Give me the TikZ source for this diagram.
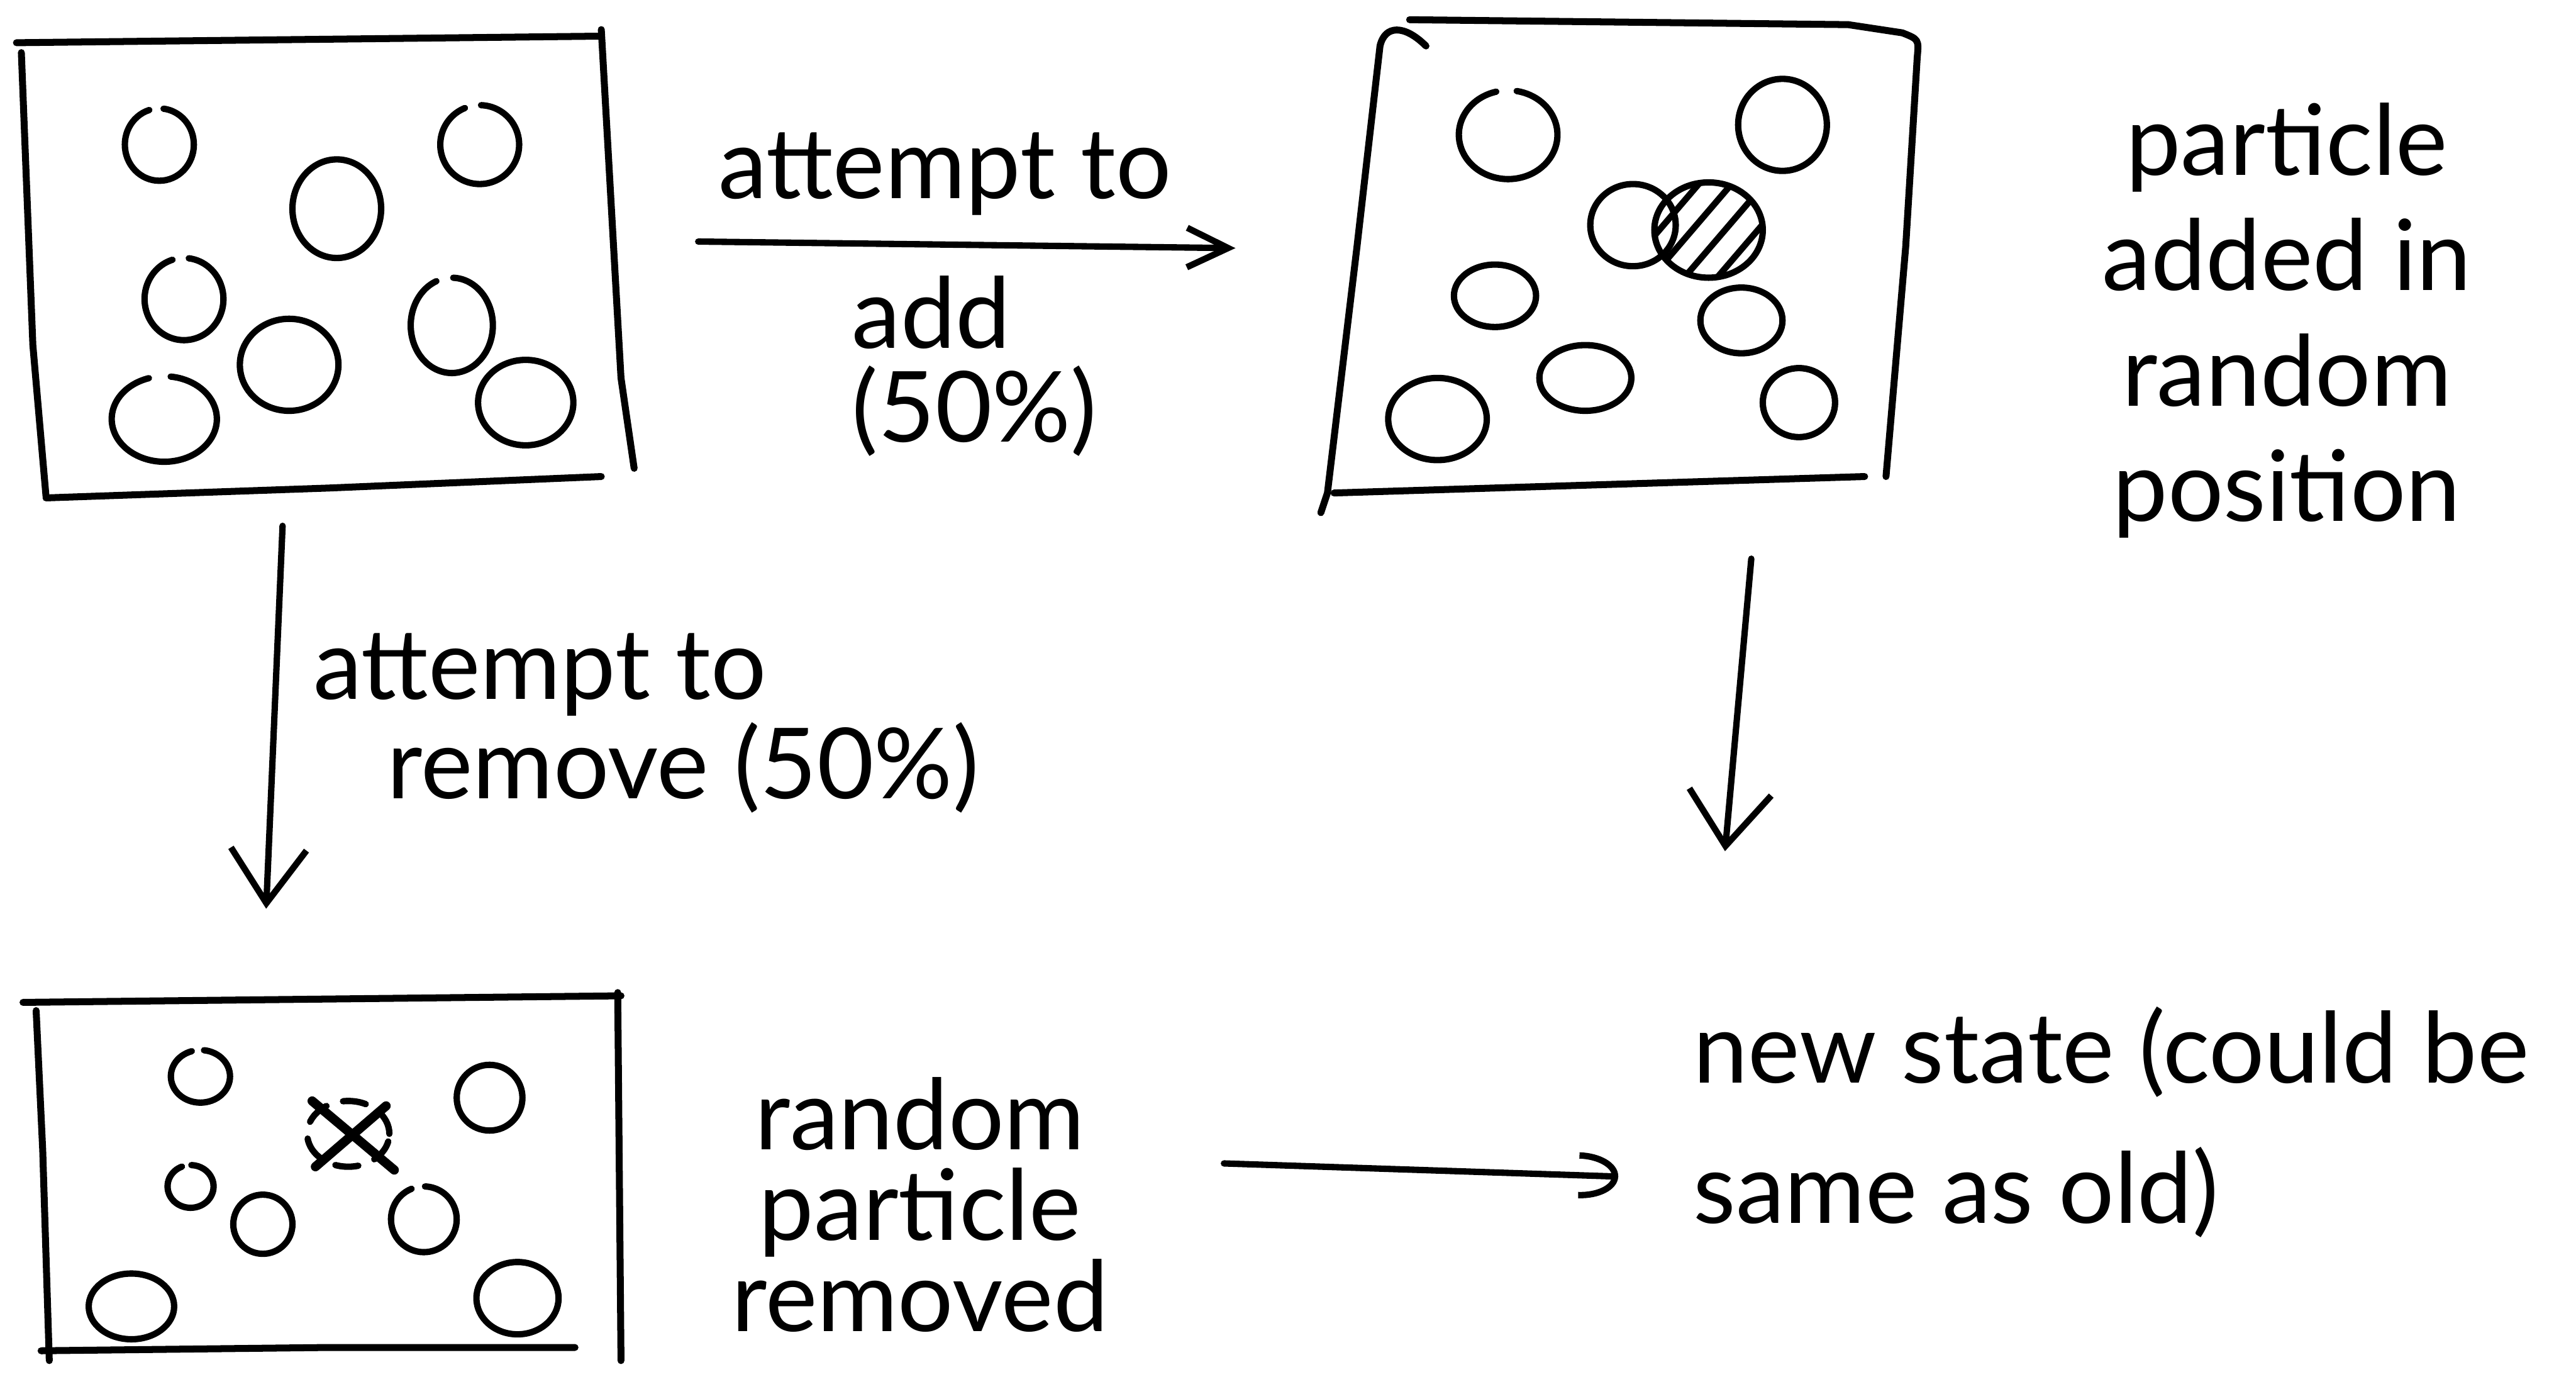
\documentclass[tikz,border=0pt]{standalone}
\usepackage{fontspec}
\setmainfont{Lato}
\usetikzlibrary{arrows.meta}
\tikzset{
  frame/.style={line width=1.2pt, line cap=round, line join=round},
  part/.style={line width=1.1pt, line cap=round},
  conn/.style={line width=1.1pt, line cap=round},
  lbl/.style={font=\fontsize{17}{20}\selectfont, inner sep=0pt},
}
% particle: centre x, centre y, x radius (mm), y radius (mm), gap direction (deg)
\newcommand\pcl[5]{\draw[part] (#1,#2) ++(#5+12:#3mm and #4mm) arc[start angle=#5+12, end angle=#5+348, x radius=#3mm, y radius=#4mm];}
\newcommand\pcf[4]{\draw[part] (#1,#2) ellipse[x radius=#3mm, y radius=#4mm];}
\begin{document}
\begin{tikzpicture}[x=0.1mm, y=-0.1mm]
\useasboundingbox (0,0) rectangle (1568,848);
\fill[white] (0,0) rectangle (1568,848);

% ---------- box 1 (initial state) ----------
\draw[frame] (10,26) -- (366,22);
\draw[frame] (366,18) -- (378,230) -- (386,285);
\draw[frame] (13,32) -- (20,210) -- (28,302);
\draw[frame] (28,303) -- (200,297) -- (366,290);
\pcl{97}{88}{2.1}{2.2}{95}
\pcf{205}{127}{2.7}{3.0}
\pcl{292}{88}{2.4}{2.4}{100}
\pcl{112}{182}{2.4}{2.5}{95}
\pcf{176}{222}{3.0}{2.8}
\pcl{275}{198}{2.5}{2.9}{100}
\pcl{100}{255}{3.2}{2.6}{95}
\pcf{320}{245}{2.9}{2.6}

% ---------- box 2 (particle added) ----------
\draw[frame] (868,28) .. controls (855,15) and (843,15) .. (840,28) -- (826,150) -- (808,300) -- (804,312);
\draw[frame] (858,12) -- (1125,15) -- (1158,20) .. controls (1168,24) .. (1167,35);
\draw[frame] (1167,35) -- (1160,150) -- (1148,290);
\draw[frame] (812,300) -- (1135,290);
\pcl{918}{82}{3.0}{2.7}{92}
\pcf{1085}{76}{2.7}{2.8}
\pcf{994}{137}{2.6}{2.5}
\pcf{1040}{140}{3.3}{2.9}
\begin{scope}
  \clip (1040,140) ellipse[x radius=3.3mm, y radius=2.9mm];
  \foreach \x in {990,1010,...,1090}
    \draw[part] (\x-30,175) -- (\x+30,105);
\end{scope}
\pcf{910}{180}{2.5}{1.9}
\pcf{1060}{195}{2.5}{2.0}
\pcf{965}{230}{2.8}{2.0}
\pcf{875}{255}{3.0}{2.5}
\pcf{1095}{245}{2.2}{2.1}

% ---------- box 3 (particle removed) ----------
\draw[frame] (14,610) -- (378,606);
\draw[frame] (22,615) -- (26,700) -- (30,828);
\draw[frame] (376,604) -- (378,828);
\draw[frame] (25,822) -- (200,820) -- (350,820);
\pcl{122}{655}{1.8}{1.6}{95}
\draw[part, dash pattern=on 4pt off 3pt] (212,690) ellipse[x radius=2.5mm, y radius=2.0mm];
\draw[part, line width=1.6pt] (190,670) -- (240,712);
\draw[part, line width=1.6pt] (235,673) -- (192,710);
\pcf{298}{668}{2.0}{2.0}
\pcl{116}{722}{1.4}{1.3}{100}
\pcf{160}{745}{1.8}{1.8}
\pcl{258}{742}{2.0}{2.0}{100}
\pcf{80}{795}{2.6}{2.0}
\pcf{315}{790}{2.5}{2.2}

% ---------- connectors ----------
\coordinate (addS) at (425,147);
\coordinate (addE) at (752,151);
\draw[conn, -{Straight Barb[length=2.5mm, width=2.4mm]}] (addS) -- (addE);

\coordinate (remS) at (172,320);
\coordinate (remE) at (162,553);
\draw[conn, -{Straight Barb[length=3.3mm, width=4.6mm]}] (remS) -- (remE);

\coordinate (newS) at (1066,340);
\coordinate (newE) at (1050,518);
\draw[conn, -{Straight Barb[length=3.3mm, width=5mm]}] (newS) -- (newE);

\coordinate (oldS) at (745,708);
\coordinate (oldE) at (985,716);
\draw[conn, -{Arc Barb[length=2.4mm, width=2.8mm]}] (oldS) -- (oldE);

% ---------- labels ----------
\node[lbl] (tAdd1) at (575,106) {attempt to};
\node[lbl, anchor=west] (tAdd2) at (518,190) {add};
\node[lbl, anchor=west] (tAdd3) at (518,250) {(50\%)};
\node[lbl, align=center] (tAdded) at (1392,195) {particle\\added in\\random\\position};
\node[lbl, align=left, anchor=west] (tRem) at (190,440) {attempt to\\[-1mm]\hspace{4.5mm}remove (50\%)};
\node[lbl, align=center] (tRemoved) at (560,733) {random\\[-1.5mm]particle\\[-1.5mm]removed};
\node[lbl, align=left, anchor=west] (tNew) at (1030,683) {new state (could be\\[1.5mm]same as old)};
\end{tikzpicture}
\end{document}
